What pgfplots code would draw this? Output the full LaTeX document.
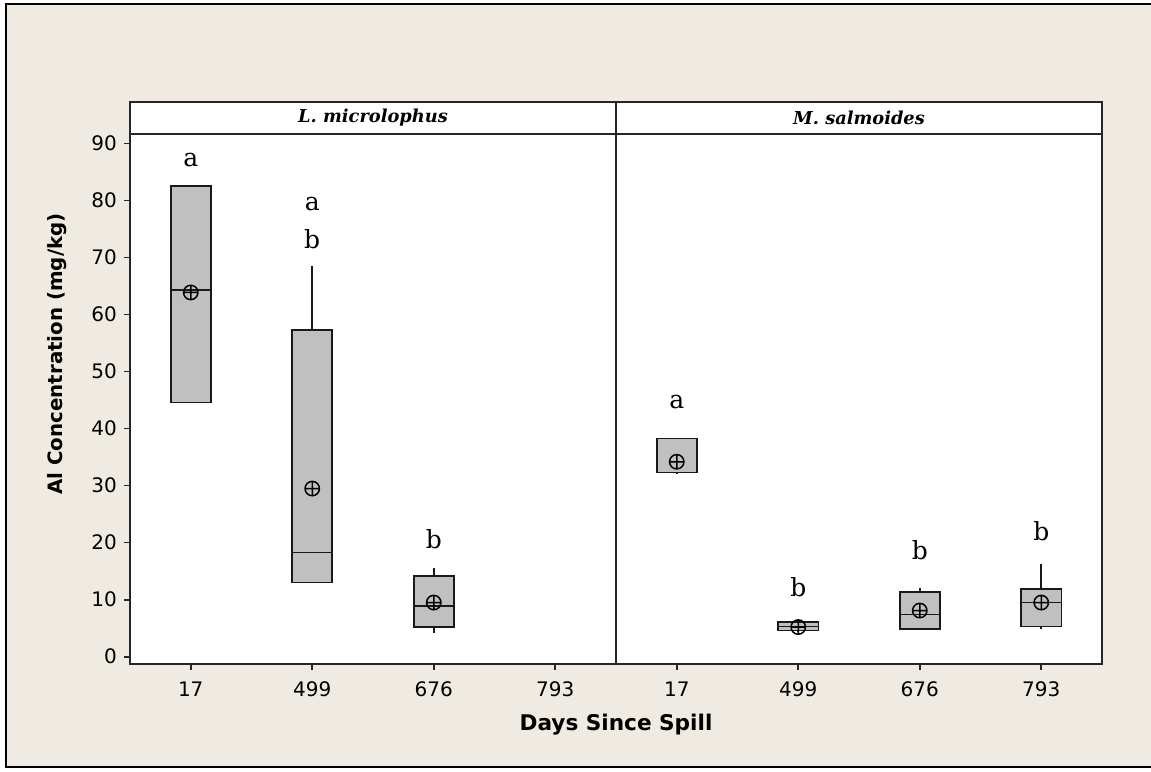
\documentclass[border=0pt]{standalone}
\usepackage{fontspec}
\usepackage{pgfplots}
\pgfplotsset{compat=1.18}
\usepgfplotslibrary{statistics}
\setmainfont{DejaVu Sans}
\newfontfamily\letterfont{DejaVu Serif}
\definecolor{panelbg}{RGB}{239,235,226}
\definecolor{boxgray}{RGB}{192,192,192}

\pgfplotsset{
  panel/.style={
    scale only axis, width=243pt, height=265pt,
    anchor=south west,
    xmin=-0.5, xmax=3.5, ymin=-1.28, ymax=91.7,
    axis background/.style={fill=white},
    axis line style={line width=0.8pt, black!85},
    tick style={line width=0.8pt, black!85},
    tick align=outside, major tick length=3pt,
    xtick={0,1,2,3}, xticklabels={17,499,676,793},
    xtick pos=left, ytick pos=left,
    ticklabel style={font=\fontsize{10}{12}\selectfont},
    xticklabel style={yshift=-2.5pt},
    /pgf/number format/assume math mode=true,
    clip=false,
    boxplot/draw direction=y,
    boxplot/every box/.style={draw=black!90, fill=boxgray, line width=0.8pt},
    boxplot/every median/.style={draw=black!90, line width=0.8pt},
    boxplot/every whisker/.style={draw=black!90, line width=0.8pt},
  },
  boxstyle/.style={draw=black!90, fill=boxgray, line width=0.8pt, solid, mark=none},
  meanmark/.style={only marks, mark=oplus, mark size=3.6pt,
    mark options={line width=0.75pt, draw=black}},
}
\tikzset{
  grp/.style={font=\letterfont\fontsize{12.5}{14}\selectfont, anchor=base},
  hdr/.style={font=\letterfont\bfseries\itshape\fontsize{8.9}{11}\selectfont},
}

\begin{document}
\begin{tikzpicture}
\useasboundingbox (0,0) rectangle (575.5pt,385.5pt);
\fill[white] (0,0) rectangle (575.5pt,385.5pt);
\fill[panelbg] (3pt,2pt) rectangle (575.5pt,383.5pt);
\draw[line width=1pt] (575.5pt,383.5pt) -- (3pt,383.5pt) -- (3pt,2pt) -- (575.5pt,2pt);

% L. microlophus
\begin{axis}[panel, at={(65pt,53.5pt)}, ytick={0,10,...,90}]
  \addplot+[boxstyle, boxplot prepared={draw position=0, median=64.3,
    upper quartile=82.6, lower quartile=44.6,
    upper whisker=82.6, lower whisker=44.6,
    box extend=0.33, whisker extend=0}] coordinates {};
  \addplot+[boxstyle, boxplot prepared={draw position=1, median=18.3,
    upper quartile=57.3, lower quartile=13.0,
    upper whisker=68.6, lower whisker=13.0,
    box extend=0.33, whisker extend=0}] coordinates {};
  \addplot+[boxstyle, boxplot prepared={draw position=2, median=8.9,
    upper quartile=14.2, lower quartile=5.2,
    upper whisker=15.6, lower whisker=4.1,
    box extend=0.33, whisker extend=0}] coordinates {};
  \addplot[meanmark] coordinates {(0,63.9) (1,29.5) (2,9.5)};
  \node[grp] at (axis cs:0,86.0) {a};
  \node[grp] at (axis cs:1,78.2) {a};
  \node[grp] at (axis cs:1,71.6) {b};
  \node[grp] at (axis cs:2,19.0) {b};
\end{axis}

% M. salmoides
\begin{axis}[panel, at={(308pt,53.5pt)}, ytick=\empty]
  \addplot+[boxstyle, boxplot prepared={draw position=0, median=32.3,
    upper quartile=38.3, lower quartile=32.3,
    upper whisker=38.3, lower whisker=32.0,
    box extend=0.33, whisker extend=0}] coordinates {};
  \addplot+[boxstyle, boxplot prepared={draw position=1, median=5.3,
    upper quartile=6.1, lower quartile=4.6,
    upper whisker=6.5, lower whisker=4.3,
    box extend=0.33, whisker extend=0}] coordinates {};
  \addplot+[boxstyle, boxplot prepared={draw position=2, median=7.4,
    upper quartile=11.35, lower quartile=4.9,
    upper whisker=12.05, lower whisker=4.9,
    box extend=0.33, whisker extend=0}] coordinates {};
  \addplot+[boxstyle, boxplot prepared={draw position=3, median=9.5,
    upper quartile=11.9, lower quartile=5.3,
    upper whisker=16.3, lower whisker=4.8,
    box extend=0.33, whisker extend=0}] coordinates {};
  \addplot[meanmark] coordinates {(0,34.2) (1,5.2) (2,8.1) (3,9.5)};
  \node[grp] at (axis cs:0,43.6) {a};
  \node[grp] at (axis cs:1,10.5) {b};
  \node[grp] at (axis cs:2,17.1) {b};
  \node[grp] at (axis cs:3,20.35) {b};
\end{axis}

% panel headers
\draw[line width=0.8pt, black!85, fill=white] (65pt,318.5pt) rectangle (551pt,334.5pt);
\draw[line width=0.8pt, black!85] (308pt,318.5pt) -- (308pt,334.5pt);
\node[hdr] at (186.5pt,326.5pt) {L. microlophus};
\node[hdr] at (429.5pt,326.5pt) {M. salmoides};

% axis titles
\node[font=\bfseries\fontsize{10.8}{12}\selectfont] at (308pt,23pt) {Days Since Spill};
\node[font=\bfseries\fontsize{9.9}{12}\selectfont, rotate=90] at (28.4pt,208.5pt) {Al Concentration (mg/kg)};
\end{tikzpicture}
\end{document}
